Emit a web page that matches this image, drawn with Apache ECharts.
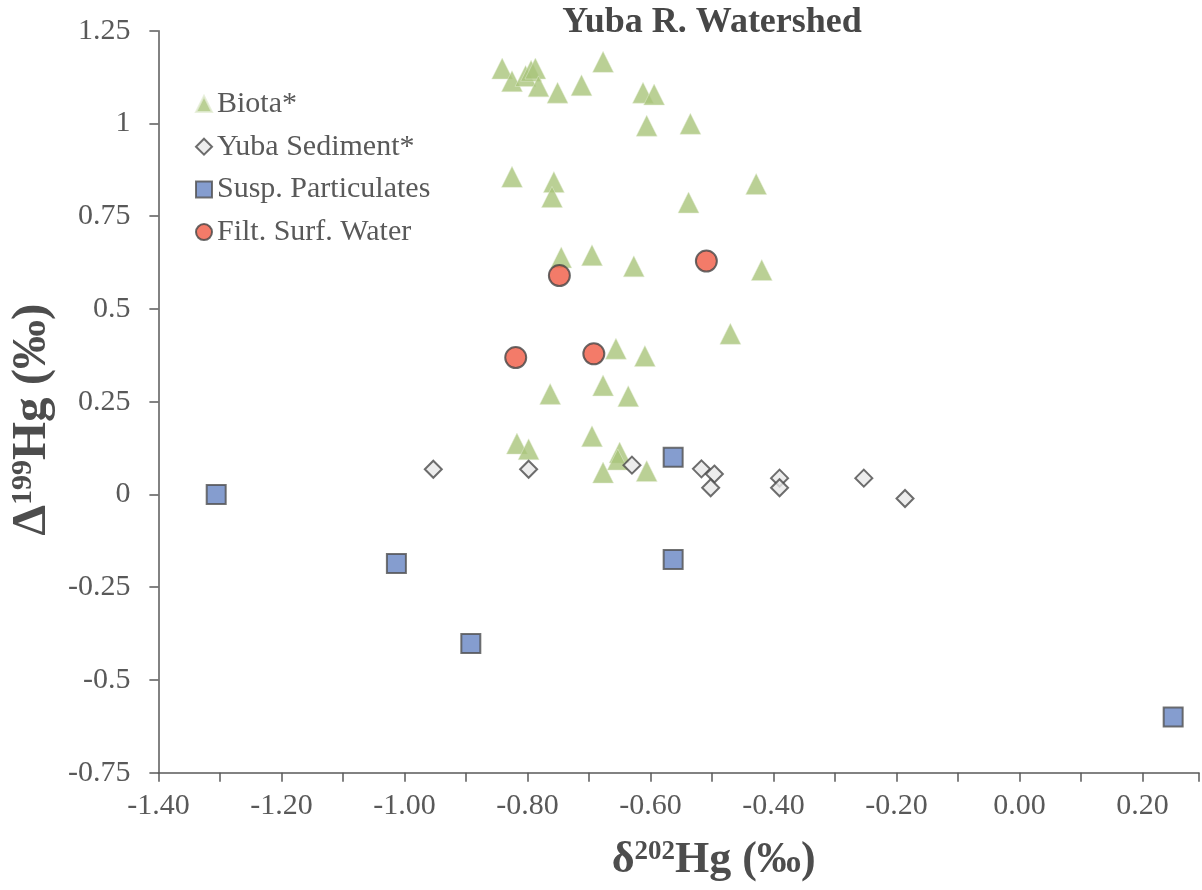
<!DOCTYPE html>
<html>
<head>
<meta charset="utf-8">
<title>Yuba R. Watershed</title>
<script src="https://cdn.jsdelivr.net/npm/echarts@6/dist/echarts.min.js"></script>
<style>
  html, body { margin: 0; padding: 0; background: #fff; }
  #chart { width: 1202px; height: 890px; }
</style>
</head>
<body>
<div id="chart"></div>
<script>
// δ202Hg (x) and Δ199Hg (y), per‰
const biotaX = [-0.841, -0.825, -0.803, -0.794, -0.787, -0.782, -0.751, -0.712, -0.677, -0.612,
                -0.594, -0.606, -0.535, -0.825, -0.757, -0.760, -0.428, -0.538, -0.745, -0.695,
                -0.627, -0.419, -0.656, -0.609, -0.470, -0.763, -0.677, -0.636, -0.817, -0.798,
                -0.695, -0.650, -0.653, -0.677, -0.606];
const biotaY = [1.148, 1.114, 1.128, 1.142, 1.148, 1.100, 1.083, 1.103, 1.166, 1.083,
                1.078, 0.994, 0.999, 0.856, 0.842, 0.802, 0.837, 0.787, 0.639, 0.645,
                0.615, 0.605, 0.393, 0.373, 0.433, 0.271, 0.294, 0.265, 0.137, 0.122,
                0.157, 0.113, 0.094, 0.059, 0.063];

const sedimentX = [-0.953, -0.798, -0.630, -0.517, -0.496, -0.502, -0.390, -0.390, -0.253, -0.186];
const sedimentY = [0.068, 0.068, 0.079, 0.069, 0.055, 0.018, 0.044, 0.018, 0.044, -0.011];

const particX = [-1.306, -1.013, -0.892, -0.563, -0.563, 0.25];
const particY = [0.000, -0.186, -0.402, 0.100, -0.175, -0.600];

const waterX = [-0.748, -0.509, -0.819, -0.692];
const waterY = [0.590, 0.629, 0.369, 0.379];

const seriesNames = ['Biota*', 'Yuba Sediment*', 'Susp. Particulates', 'Filt. Surf. Water'];

const FONT = '"Liberation Serif", "Times New Roman", serif';
const AXIS_GREY = '#595959';
const TITLE_GREY = '#4d4d4d';

function pairs(xs, ys) {
  return xs.map((x, i) => [x, ys[i]]);
}

const chart = echarts.init(document.getElementById('chart'), null, { renderer: 'canvas' });

chart.setOption({
  backgroundColor: '#ffffff',
  animation: false,
  title: {
    text: 'Yuba R. Watershed',
    left: 712,
    top: 5,
    textAlign: 'center',
    padding: 0,
    textStyle: { fontFamily: FONT, fontSize: 36, fontWeight: 'bold', color: '#474747' }
  },
  legend: {
    orient: 'vertical',
    left: 195,
    top: 89,
    padding: 0,
    itemWidth: 16,
    itemHeight: 16,
    itemGap: 12.7,
    data: seriesNames,
    textStyle: { fontFamily: FONT, fontSize: 30, color: AXIS_GREY }
  },
  grid: {
    left: 157.7,
    top: 30.7,
    width: 1044.3,
    height: 742,
    containLabel: false
  },
  xAxis: {
    type: 'value',
    min: -1.4,
    max: 0.292,
    interval: 0.1,
    name: '{g|δ}{s|202}{g|Hg (‰)}',
    nameLocation: 'middle',
    nameGap: 66,
    nameTextStyle: {
      padding: [0, 0, 0, 70],
      rich: {
        g: { fontFamily: FONT, fontSize: 44, fontWeight: 'bold', color: TITLE_GREY },
        s: { fontFamily: FONT, fontSize: 27, fontWeight: 'bold', color: TITLE_GREY, verticalAlign: 'top' }
      }
    },
    axisLine: { onZero: false, lineStyle: { color: AXIS_GREY, width: 1.5 } },
    axisTick: { show: true, inside: false, length: 9, lineStyle: { color: AXIS_GREY, width: 1.5 } },
    splitLine: { show: false },
    axisLabel: {
      interval: 0,
      margin: 18,
      fontFamily: FONT,
      fontSize: 30,
      color: AXIS_GREY,
      formatter: function (v) {
        const k = Math.round(v * 10);
        if (k % 2 !== 0 || v > 0.25) return '';
        return (k / 10).toFixed(2);
      }
    }
  },
  yAxis: {
    type: 'value',
    min: -0.75,
    max: 1.25,
    interval: 0.25,
    name: '{g|Δ}{s|199}{g|Hg (‰)}',
    nameLocation: 'middle',
    nameRotate: 90,
    nameGap: 83,
    nameTextStyle: {
      padding: [0, 36, 0, 0],
      rich: {
        g: { fontFamily: FONT, fontSize: 49, fontWeight: 'bold', color: TITLE_GREY },
        s: { fontFamily: FONT, fontSize: 30, fontWeight: 'bold', color: TITLE_GREY, verticalAlign: 'top' }
      }
    },
    axisLine: { onZero: false, lineStyle: { color: AXIS_GREY, width: 1.5 } },
    axisTick: { show: true, inside: false, length: 9, lineStyle: { color: AXIS_GREY, width: 1.5 } },
    splitLine: { show: false },
    axisLabel: {
      margin: 28,
      fontFamily: FONT,
      fontSize: 30,
      color: AXIS_GREY
    }
  },
  series: [
    {
      name: seriesNames[0],
      type: 'scatter',
      symbol: 'triangle',
      symbolSize: 21,
      data: pairs(biotaX, biotaY),
      itemStyle: { color: '#a9c47b', borderColor: '#e4ecd4', borderWidth: 0.6 }
    },
    {
      name: seriesNames[1],
      type: 'scatter',
      symbol: 'diamond',
      symbolSize: 17,
      data: pairs(sedimentX, sedimentY),
      itemStyle: { color: '#e9e9e9', borderColor: '#4a4a4a', borderWidth: 2 }
    },
    {
      name: seriesNames[2],
      type: 'scatter',
      symbol: 'rect',
      symbolSize: 19,
      data: pairs(particX, particY),
      itemStyle: { color: '#6784c3', borderColor: '#505050', borderWidth: 2 }
    },
    {
      name: seriesNames[3],
      type: 'scatter',
      symbol: 'circle',
      symbolSize: 21,
      data: pairs(waterX, waterY),
      itemStyle: { color: '#f05a44', borderColor: '#454545', borderWidth: 2 }
    }
  ]
});
</script>
</body>
</html>
